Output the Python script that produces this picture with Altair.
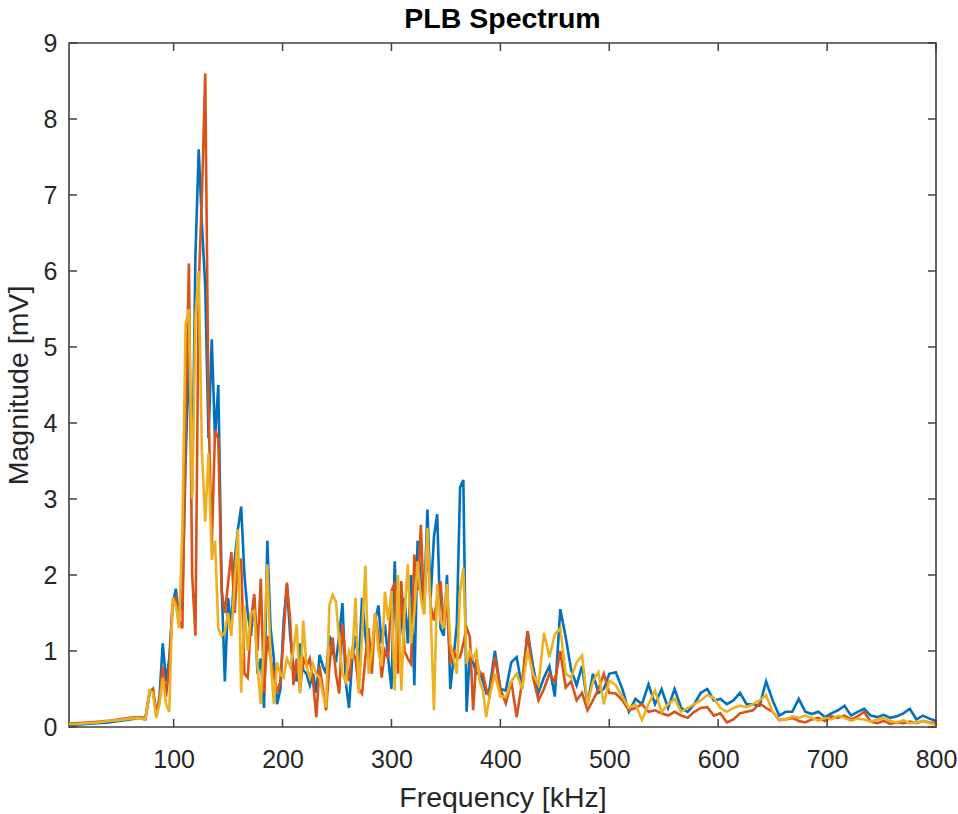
import altair as alt
import pandas as pd

# ---- frequency grid [kHz] ----
freq_low = [3.9, 10, 20, 30, 40, 50, 60, 68, 74]
freq_a = list(range(78, 391, 3))      # 78 ... 390
freq_b = list(range(395, 501, 5))     # 395 ... 500
freq_c = list(range(506, 801, 6))     # 506 ... 800

# ---- series 1 (blue) ----
s1_low = [0.03, 0.03, 0.04, 0.05, 0.06, 0.08, 0.10, 0.12, 0.10]
s1_a = [0.45, 0.5, 0.15, 0.4, 1.1, 0.6, 0.9, 1.6, 1.82, 1.45, 1.7, 3.5, 4.9, 3.1, 6.2,
        7.6, 6.6, 5.8, 3.8, 5.1, 3.8, 4.5, 1.9, 0.6, 1.7, 1.3, 2.2, 2.6, 2.9, 2.0,
        1.5, 1.2, 1.7, 0.7, 0.9, 0.25, 2.45, 1.3, 0.9, 0.3, 0.5, 1.4, 1.87, 1.2, 0.8,
        0.6, 1.1, 0.75, 0.7, 0.55, 0.7, 0.45, 0.95, 0.8, 0.7, 1.2, 1.0, 0.85, 1.2, 1.63,
        0.6, 0.25, 0.9, 1.2, 0.8, 1.7, 1.2, 0.87, 1.0, 1.4, 1.6, 1.1, 1.35, 0.9, 0.5,
        2.18, 0.92, 1.4, 1.7, 1.1, 2.0, 0.55, 2.45, 1.9, 1.6, 2.86, 1.7, 2.5, 2.8, 1.3,
        1.2, 2.0, 0.5, 0.9, 1.35, 3.15, 3.25, 0.2, 1.0, 0.85, 0.7, 0.72, 0.6, 0.45, 0.5]
s1_b = [1.0, 0.5, 0.48, 0.85, 0.92, 0.5, 1.26, 0.8, 0.45, 0.65, 0.8, 0.4, 1.55, 1.18,
        0.75, 0.55, 0.8, 0.3, 0.7, 0.45, 0.5, 0.7]
s1_c = [0.72, 0.5, 0.2, 0.37, 0.3, 0.56, 0.3, 0.5, 0.25, 0.5, 0.25, 0.2, 0.3, 0.45, 0.5,
        0.35, 0.37, 0.3, 0.35, 0.45, 0.3, 0.3, 0.28, 0.6, 0.35, 0.15, 0.2, 0.2, 0.37, 0.2,
        0.17, 0.2, 0.13, 0.18, 0.22, 0.28, 0.15, 0.2, 0.24, 0.15, 0.13, 0.16, 0.12, 0.14,
        0.18, 0.24, 0.1, 0.15, 0.11, 0.08]

# ---- series 2 (orange) ----
s2_low = [0.05, 0.05, 0.06, 0.07, 0.08, 0.10, 0.12, 0.13, 0.12]
s2_a = [0.47, 0.5, 0.2, 0.35, 0.8, 0.4, 0.8, 1.6, 1.7, 1.4, 1.3, 4.0, 6.1, 2.0, 1.2,
        5.8, 7.0, 8.6, 4.2, 2.4, 3.9, 3.8, 1.8, 1.5, 1.9, 2.3, 1.5, 2.2, 2.2, 0.7,
        0.65, 1.4, 1.75, 1.0, 1.95, 0.45, 1.2, 0.9, 0.7, 0.45, 0.6, 1.2, 1.9, 1.4, 0.55,
        0.9, 0.48, 0.9, 0.8, 0.9, 0.6, 0.13, 0.8, 0.5, 0.22, 0.8, 1.18, 0.7, 0.44, 1.35,
        0.87, 0.6, 1.0, 0.9, 0.5, 0.44, 0.9, 1.3, 0.7, 1.5, 1.2, 0.65, 1.0, 0.9, 1.79,
        1.9, 0.7, 1.92, 1.0, 0.9, 0.83, 2.27, 1.8, 2.66, 1.5, 2.44, 1.6, 1.4, 1.7, 1.92,
        1.35, 1.6, 0.83, 1.0, 0.9, 0.92, 1.1, 1.31, 1.18, 0.22, 0.9, 0.7, 0.7, 0.5, 0.4]
s2_b = [0.92, 0.5, 0.31, 0.6, 0.13, 0.6, 1.26, 0.65, 0.35, 0.5, 0.7, 0.6, 1.0, 0.52,
        0.6, 0.35, 0.45, 0.22, 0.35, 0.5, 0.7, 0.45]
s2_c = [0.44, 0.35, 0.22, 0.25, 0.3, 0.2, 0.22, 0.18, 0.15, 0.2, 0.15, 0.12, 0.2, 0.25,
        0.26, 0.15, 0.18, 0.06, 0.1, 0.18, 0.2, 0.22, 0.31, 0.25, 0.2, 0.09, 0.1, 0.12,
        0.08, 0.06, 0.1, 0.12, 0.08, 0.14, 0.12, 0.15, 0.1, 0.14, 0.2, 0.07, 0.05, 0.08,
        0.04, 0.06, 0.05, 0.07, 0.05, 0.08, 0.06, 0.05]

# ---- series 3 (yellow) ----
s3_low = [0.04, 0.04, 0.05, 0.06, 0.08, 0.09, 0.11, 0.12, 0.10]
s3_a = [0.48, 0.45, 0.12, 0.3, 0.65, 0.3, 0.2, 1.7, 1.6, 1.3, 2.6, 5.3, 5.5, 3.0, 5.4,
        6.0, 3.6, 2.7, 3.6, 2.2, 2.45, 1.3, 1.2, 1.25, 1.5, 1.2, 1.9, 2.6, 0.45, 1.6,
        1.0, 1.5, 1.53, 0.8, 0.3, 1.1, 2.14, 0.9, 0.3, 0.85, 0.7, 0.65, 0.9, 0.8, 1.0,
        1.35, 0.44, 1.4, 0.8, 0.65, 0.83, 0.7, 0.65, 0.44, 0.26, 1.6, 1.74, 1.65, 1.13, 0.7,
        0.6, 1.0, 0.9, 1.7, 0.44, 1.2, 2.12, 0.7, 1.0, 1.5, 1.0, 0.8, 1.78, 1.4, 1.79,
        0.48, 2.0, 0.48, 1.5, 2.14, 1.1, 1.5, 2.18, 1.7, 1.48, 2.62, 1.5, 0.22, 1.88, 1.4,
        1.3, 1.88, 1.1, 0.9, 0.7, 1.8, 2.09, 0.83, 1.0, 0.9, 1.0, 0.6, 0.48, 0.13, 0.4]
s3_b = [0.7, 0.4, 0.4, 0.6, 0.7, 0.5, 1.0, 0.7, 0.55, 1.24, 0.92, 1.22, 1.3, 0.7,
        0.65, 0.85, 0.94, 0.3, 0.6, 0.72, 0.3, 0.61]
s3_c = [0.55, 0.4, 0.25, 0.3, 0.09, 0.3, 0.48, 0.2, 0.3, 0.37, 0.2, 0.25, 0.3, 0.35,
        0.42, 0.38, 0.25, 0.2, 0.25, 0.28, 0.26, 0.3, 0.35, 0.42, 0.2, 0.09, 0.1, 0.14,
        0.12, 0.15, 0.12, 0.08, 0.12, 0.1, 0.15, 0.12, 0.08, 0.11, 0.1, 0.07, 0.1, 0.12,
        0.08, 0.06, 0.09, 0.05, 0.06, 0.08, 0.05, 0.03]

series_names = ["s1", "s2", "s3"]
series_colors = ["#0072BD", "#D95319", "#EDB120"]
x_ticks = [100, 200, 300, 400, 500, 600, 700, 800]
y_ticks = [0, 1, 2, 3, 4, 5, 6, 7, 8, 9]

freq = freq_low + freq_a + freq_b + freq_c
rows = []
for order, (name, vals) in enumerate(zip(series_names, [
        s1_low + s1_a + s1_b + s1_c,
        s2_low + s2_a + s2_b + s2_c,
        s3_low + s3_a + s3_b + s3_c])):
    assert len(vals) == len(freq), (name, len(vals), len(freq))
    for f, v in zip(freq, vals):
        rows.append({"freq": f, "mag": v, "series": name, "order": order})
df = pd.DataFrame(rows)

W, H = 867, 684
FONT = "Liberation Sans"
AX = "#404040"
TXT = "#262626"

xscale = alt.Scale(domain=[3.906, 800], nice=False, zero=False)
yscale = alt.Scale(domain=[0, 9], nice=False)

common_axis = dict(tickSize=0, domain=False, grid=False, labelFont=FONT, titleFont=FONT,
                   labelFontSize=25, titleFontSize=28.5, labelColor=TXT, titleColor=TXT,
                   titleFontWeight="normal", format="d")

lines = alt.Chart(df).mark_line(strokeWidth=2.6, clip=True).encode(
    x=alt.X("freq:Q", scale=xscale,
            axis=alt.Axis(values=x_ticks, title="Frequency [kHz]", labelPadding=20,
                          titlePadding=11, labelFlush=False, **common_axis)),
    y=alt.Y("mag:Q", scale=yscale,
            axis=alt.Axis(values=y_ticks, title="Magnitude [mV]", labelPadding=12,
                          titlePadding=10, **common_axis)),
    color=alt.Color("series:N", scale=alt.Scale(domain=series_names, range=series_colors),
                    legend=None),
    order=alt.Order("order:Q"),
    detail="series:N",
)

xt = pd.DataFrame({"t": x_ticks})
yt = pd.DataFrame({"t": y_ticks})
TL = 8
xt_bottom = alt.Chart(xt).mark_rule(color=AX, strokeWidth=1.5).encode(
    x=alt.X("t:Q", scale=xscale), y=alt.value(H), y2=alt.value(H - TL))
xt_top = alt.Chart(xt).mark_rule(color=AX, strokeWidth=1.5).encode(
    x=alt.X("t:Q", scale=xscale), y=alt.value(0), y2=alt.value(TL))
yt_left = alt.Chart(yt).mark_rule(color=AX, strokeWidth=1.5).encode(
    y=alt.Y("t:Q", scale=yscale), x=alt.value(0), x2=alt.value(TL))
yt_right = alt.Chart(yt).mark_rule(color=AX, strokeWidth=1.5).encode(
    y=alt.Y("t:Q", scale=yscale), x=alt.value(W), x2=alt.value(W - TL))

chart = alt.layer(lines, xt_bottom, xt_top, yt_left, yt_right).properties(
    width=W, height=H,
    background="white",
    title=alt.TitleParams("PLB Spectrum", fontSize=28.5, fontWeight="bold", font=FONT,
                          color="#000000", anchor="middle", offset=2,
                          baseline="alphabetic", dy=27),
    autosize=alt.AutoSizeParams(type="none"),
    padding={"left": 69, "top": 43, "right": 22, "bottom": 87},
).configure_view(
    stroke=AX, strokeWidth=1.6
)

chart.save("out.html", embed_options={"renderer": "svg", "actions": False})
